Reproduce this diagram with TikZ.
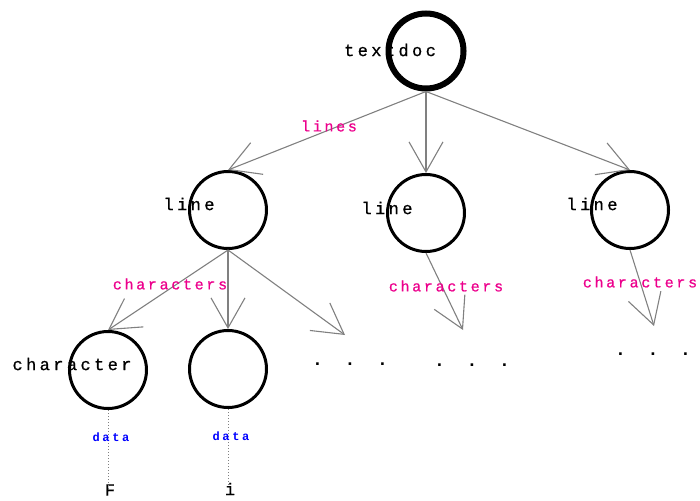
\documentclass[tikz,border=0pt]{standalone}
\usepackage{fontspec}
\usetikzlibrary{arrows.meta}
\newfontfamily\namefont[LetterSpace=20,FakeBold=0.8]{Liberation Mono}
\newfontfamily\relfont[LetterSpace=18,FakeBold=0.8]{Liberation Mono}
\newfontfamily\datafont[LetterSpace=22]{Liberation Mono Bold}
\newfontfamily\dotfont[LetterSpace=30]{Liberation Mono Bold}

\begin{document}
\begin{tikzpicture}[x=1pt,y=-1pt,
  every node/.style={inner sep=0pt},
  ring/.style={circle, draw=black, line width=3pt, minimum size=77pt},
  rootring/.style={circle, draw=black, line width=6pt, minimum size=75pt},
  nodetext/.style={font=\namefont\fontsize{17}{17}\selectfont, text=black},
  reltext/.style={font=\relfont\fontsize{15}{15}\selectfont, text=magenta},
  datatext/.style={font=\datafont\fontsize{12}{12}\selectfont, text=blue},
  moretext/.style={font=\dotfont\fontsize{18}{18}\selectfont, text=black},
  link/.style={draw=gray, line width=1.1pt,
    -{Straight Barb[length=30pt,width=34pt,line width=1.1pt]}},
  datalink/.style={draw=gray, line width=1pt, dotted}
]
\useasboundingbox (0,0) rectangle (700,500);

% node names, set beneath the rings
\node[nodetext] (tdocTxt) at (390,50) {textdoc};
\node[nodetext] (lineATxt) at (189,204) {line};
\node[nodetext] (lineBTxt) at (387,208) {line};
\node[nodetext] (lineCTxt) at (592,204) {line};
\node[nodetext] (charTxt) at (72,364) {character};

% rings
\node[rootring] (root) at (426,51) {};
\node[ring] (lineA) at (228,210) {};
\node[ring] (lineB) at (426,213) {};
\node[ring] (lineC) at (630,210) {};
\node[ring] (chF) at (108,370) {};
\node[ring] (chI) at (228,369) {};

% stored values
\node[nodetext] (valF) at (110,490) {F};
\node[nodetext] (valI) at (230,489) {i};

% elided children
\node[moretext] (dotsA) at (350,364) {. . .};
\node[moretext] (dotsB) at (472,365) {. . .};
\node[moretext] (dotsC) at (653,354) {. . .};

% free ends of the elided links
\coordinate (moreA) at (345,335);
\coordinate (moreB) at (463,330);
\coordinate (moreC) at (654,326);

% links
\draw[link] (root.south) -- (lineA.north);
\draw[link] (root.south) -- (lineB.north);
\draw[link] (root.south) -- (lineC.north);
\draw[link] (lineA.south) -- (chF.north);
\draw[link] (lineA.south) -- (chI.north);
\draw[link] (lineA.south) -- (moreA);
\draw[link] (lineB.south) -- (moreB);
\draw[link] (lineC.south) -- (moreC);
\draw[datalink] (chF.south) -- ([yshift=-6pt]valF.north -| chF.south);
\draw[datalink] (chI.south) -- ([yshift=-6pt]valI.north -| chI.south);

% link labels
\node[reltext] (linesLbl) at (329,126) {lines};
\node[reltext] (charsA) at (170,284) {characters};
\node[reltext] (charsB) at (446,286) {characters};
\node[reltext] (charsC) at (640,282) {characters};
\node[datatext] (dataF) at (111,437) {data};
\node[datatext] (dataI) at (231,436) {data};
\end{tikzpicture}
\end{document}
